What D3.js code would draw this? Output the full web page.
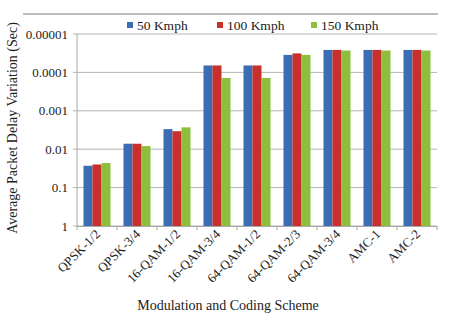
<!DOCTYPE html>
<html><head><meta charset="utf-8">
<script src="https://cdn.jsdelivr.net/npm/d3@7"></script>
<style>body{margin:0;background:#fff}svg{display:block}text{font-family:"Liberation Serif","Times New Roman",serif;fill:#222}</style>
</head><body><svg id="c" width="452" height="314"></svg>
<script>
const categories = ["QPSK-1/2","QPSK-3/4","16-QAM-1/2","16-QAM-3/4","64-QAM-1/2","64-QAM-2/3","64-QAM-3/4","AMC-1","AMC-2"];
const seriesNames = ["50 Kmph","100 Kmph","150 Kmph"];
const s50  = [0.027, 0.0072, 0.0030, 0.000066, 0.000066, 0.000035, 0.000026, 0.000026, 0.000026];
const s100 = [0.025, 0.0072, 0.0034, 0.000066, 0.000066, 0.000032, 0.000026, 0.000026, 0.000026];
const s150 = [0.023, 0.0083, 0.0027, 0.00014, 0.00014, 0.000035, 0.000027, 0.000027, 0.000027];
const yTicks = [1, 0.1, 0.01, 0.001, 0.0001, 0.00001];
const yTickLabels = ["1","0.1","0.01","0.001","0.0001","0.00001"];
const colors = ["#3B6DB4","#C9302C","#8DBE3C"];

const svg = d3.select("#c");
const L = 77, R = 437, T = 34, B = 226;
const x = d3.scaleBand().domain(categories).range([L, R]).paddingInner(0).paddingOuter(0);
const y = d3.scaleLog().domain([1, 0.00001]).range([B, T]);
const inner = d3.scaleBand().domain(seriesNames).range([0, x.bandwidth()]).paddingInner(0);
inner.paddingOuter((x.bandwidth() - 27) / 2 / (27/3));

// top decorative line
svg.append("line").attr("x1",23).attr("x2",438).attr("y1",14).attr("y2",14).attr("stroke","#bdbdbd").attr("stroke-width",2);

// gridlines
svg.append("g").selectAll("line").data(yTicks).join("line")
  .attr("x1", L-4).attr("x2", R).attr("y1", d => y(d)).attr("y2", d => y(d))
  .attr("stroke", "#b4b4b4").attr("stroke-width", 1);

// y labels
svg.append("g").selectAll("text").data(yTicks).join("text")
  .attr("x", L-9).attr("y", d => y(d)).attr("dy","0.35em").attr("text-anchor","end")
  .style("font-size","13px").text((d,i) => yTickLabels[i]);

// bars
const data = [s50, s100, s150];
const g = svg.append("g");
categories.forEach((c, ci) => {
  seriesNames.forEach((s, si) => {
    const v = data[si][ci];
    g.append("rect").attr("x", x(c) + inner(s)).attr("width", inner.bandwidth())
      .attr("y", y(v)).attr("height", B - y(v)).attr("fill", colors[si]);
  });
});

// axes lines
svg.append("line").attr("x1",L).attr("x2",L).attr("y1",T).attr("y2",B).attr("stroke","#a8a8a8");
svg.append("line").attr("x1",L).attr("x2",R).attr("y1",B+0.5).attr("y2",B+0.5).attr("stroke","#a8a8a8");
const bounds = categories.map(c => x(c)).concat([R]);
svg.append("g").selectAll("line").data(bounds).join("line")
  .attr("x1", d => d).attr("x2", d => d).attr("y1", B).attr("y2", B+4).attr("stroke","#a8a8a8");

// x labels
svg.append("g").selectAll("text").data(categories).join("text")
  .attr("transform", d => `translate(${x(d)+x.bandwidth()/2+4},${B+9}) rotate(-45)`)
  .attr("text-anchor","end").style("font-size","13px").text(d => d);

// axis titles
svg.append("text").attr("x", 228).attr("y", 310).attr("text-anchor","middle").style("font-size","14px").text("Modulation and Coding Scheme");
svg.append("text").attr("transform", `translate(17,128) rotate(-90)`).attr("text-anchor","middle").style("font-size","14px").text("Average Packet Delay Variation (Sec)");

// legend
const legX = [127, 217, 311];
const lg = svg.append("g");
seriesNames.forEach((s, i) => {
  lg.append("rect").attr("x", legX[i]).attr("y", 22).attr("width", 6).attr("height", 6).attr("fill", colors[i]);
  lg.append("text").attr("x", legX[i] + 10).attr("y", 29.5).style("font-size","13.5px").text(s);
});
</script></body></html>
